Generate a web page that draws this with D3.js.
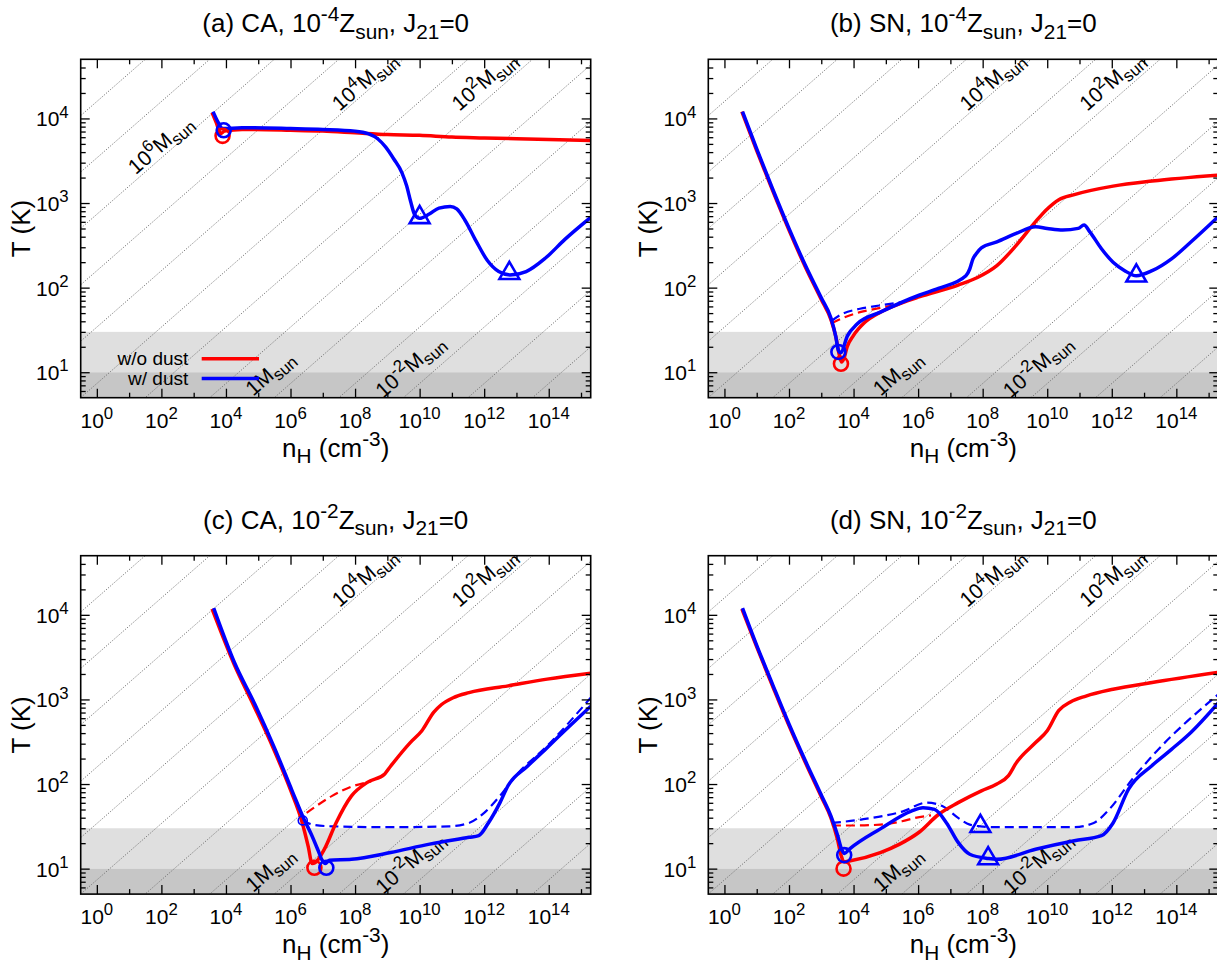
<!DOCTYPE html>
<html>
<head>
<meta charset="utf-8">
<script src="https://cdn.jsdelivr.net/npm/d3@7"></script>
<style>
body { margin: 0; background: #fff; }
text { font-family: "Liberation Sans", Arial, Helvetica, sans-serif; fill: #000; }
</style>
</head>
<body>
<svg id="chart" width="1217" height="963"></svg>
<script>
// all series are [log10 nH (cm^-3), log10 T (K)]
var aRed = [[3.57,4.07],[3.7,3.95],[3.84,3.82],[3.95,3.85],[4.5,3.87],[6,3.86],[7,3.85],[8,3.83],[9,3.81],[10,3.8],[11,3.78],[12,3.77],[13,3.76],[14,3.75],[15.3,3.74]];
var aBlue = [[3.6,4.08],[3.75,3.96],[3.9,3.88],[4.5,3.89],[6,3.88],[7,3.87],[8,3.85],[8.4,3.82],[8.7,3.76],[8.95,3.66],[9.2,3.52],[9.45,3.36],[9.6,3.2],[9.72,3.02],[9.85,2.86],[10.0,2.82],[10.3,2.87],[10.6,2.94],[10.95,2.96],[11.15,2.93],[11.4,2.8],[11.75,2.55],[12.1,2.32],[12.45,2.19],[12.8,2.15],[13.3,2.19],[13.9,2.35],[14.5,2.57],[15.3,2.83]];

var bRed = [[0.54,4.08],[1.0,3.62],[1.5,3.14],[2.0,2.68],[2.5,2.25],[3.0,1.86],[3.3,1.62],[3.45,1.42],[3.55,1.22],[3.63,1.12],[3.7,1.16],[3.8,1.3],[3.99,1.43],[4.35,1.59],[4.83,1.71],[5.5,1.82],[6.03,1.89],[7.24,2.03],[7.84,2.12],[8.44,2.26],[9.04,2.5],[9.64,2.78],[10.0,2.93],[10.36,3.04],[10.84,3.1],[12.04,3.2],[13.25,3.26],[15.3,3.33]];
var bRedDash = [[3.33,1.58],[3.6,1.63],[4.2,1.71],[4.83,1.76],[5.5,1.81]];
var bBlue = [[0.56,4.08],[1.0,3.64],[1.5,3.16],[2.0,2.7],[2.5,2.27],[3.0,1.88],[3.3,1.64],[3.45,1.42],[3.53,1.26],[3.6,1.23],[3.81,1.43],[4.11,1.57],[4.83,1.71],[6.03,1.91],[6.63,1.99],[7.48,2.14],[7.6,2.22],[7.7,2.34],[7.8,2.4],[7.96,2.47],[8.44,2.54],[9.04,2.64],[9.64,2.72],[10.0,2.7],[10.48,2.68],[10.96,2.7],[11.14,2.74],[11.32,2.66],[11.68,2.46],[12.04,2.3],[12.4,2.2],[12.76,2.14],[13.25,2.2],[13.85,2.34],[14.45,2.54],[15.3,2.84]];
var bBlueDash = [[3.33,1.61],[3.6,1.68],[4.2,1.75],[4.83,1.79],[5.5,1.83]];

var cRed = [[3.57,4.07],[4.26,3.41],[4.87,2.92],[5.47,2.42],[6.0,1.93],[6.35,1.56],[6.55,1.26],[6.67,1.06],[6.76,1.07],[7.05,1.23],[7.41,1.54],[7.89,1.86],[8.38,2.02],[8.92,2.12],[9.1,2.21],[9.71,2.49],[10.07,2.63],[10.44,2.85],[10.68,2.94],[11.04,3.02],[11.53,3.08],[12.74,3.16],[13.95,3.24],[15.3,3.31]];
var cRedDash = [[6.5,1.66],[6.8,1.74],[7.29,1.86],[7.9,1.97],[8.5,2.03]];
var cBlue = [[3.62,4.08],[4.26,3.44],[4.9,2.94],[5.5,2.43],[6.05,1.92],[6.4,1.6],[6.65,1.4],[6.85,1.22],[6.98,1.1],[7.08,1.06],[7.2,1.1],[7.89,1.11],[9.1,1.19],[10.31,1.29],[11.53,1.37],[11.83,1.39],[12.13,1.54],[12.49,1.78],[12.74,1.98],[13.34,2.21],[13.95,2.43],[14.55,2.65],[15.3,2.92]];
var cBlueDash = [[6.38,1.58],[6.68,1.52],[7.29,1.5],[9.1,1.49],[10.92,1.5],[11.53,1.54],[12.0,1.66],[12.49,1.86],[12.98,2.1],[13.95,2.45],[15.3,3.02]];

var dRed = [[0.54,4.07],[1.0,3.62],[1.5,3.15],[2.0,2.69],[2.5,2.26],[3.0,1.85],[3.3,1.6],[3.5,1.35],[3.62,1.15],[3.7,1.08],[3.87,1.09],[4.83,1.19],[5.43,1.29],[6.03,1.43],[6.63,1.64],[7.24,1.78],[7.96,1.92],[8.44,2.0],[8.8,2.1],[9.04,2.25],[9.64,2.49],[10.0,2.63],[10.36,2.87],[10.72,2.97],[11.2,3.04],[12.04,3.12],[13.25,3.2],[15.3,3.32]];
var dRedDash = [[3.33,1.51],[4.0,1.51],[4.83,1.52],[5.5,1.56],[5.91,1.6],[6.4,1.63]];
var dBlue = [[0.56,4.08],[1.0,3.64],[1.5,3.17],[2.0,2.71],[2.5,2.28],[3.0,1.87],[3.3,1.62],[3.5,1.4],[3.63,1.23],[3.72,1.18],[3.87,1.23],[4.83,1.47],[5.79,1.68],[6.15,1.72],[6.51,1.7],[6.88,1.54],[7.24,1.31],[7.6,1.17],[8.17,1.12],[8.44,1.11],[9.64,1.23],[10.84,1.33],[11.68,1.39],[12.04,1.54],[12.52,1.94],[13.25,2.22],[13.85,2.41],[14.45,2.61],[15.3,2.96]];
var dBlueDash = [[3.33,1.54],[4.23,1.58],[5.55,1.68],[6.27,1.78],[6.75,1.74],[7.24,1.6],[7.6,1.52],[7.93,1.5],[8.44,1.49],[10.84,1.49],[11.44,1.54],[11.92,1.7],[12.64,2.06],[13.25,2.33],[15.3,3.06]];

// markers: [shape, colour, log n, log T]
var aMarks = [["circle","red",3.895,3.794],["circle","blue",3.93,3.86],["triangle","blue",10.0,2.83],["triangle","blue",12.78,2.17]];
var bMarks = [["circle","red",3.61,1.1],["circle","blue",3.53,1.24],["triangle","blue",12.76,2.14]];
var cMarks = [["circle","red",6.74,1.01],["circle","blue",7.11,1.01],["small","blue",6.38,1.57]];
var dMarks = [["circle","red",3.69,1.0],["circle","blue",3.71,1.16],["triangle","blue",8.17,1.12],["triangle","blue",7.93,1.5]];

// Jeans mass labels: [mantissa, exponent, log n, log T]
var massLabelsA = [["10","6",2.11,3.63],["10","4",8.43,4.38],["10","2",12.14,4.38],["1","",5.5,0.93],["10","-2",9.84,1.01]];
var massLabels = [["10","4",8.43,4.38],["10","2",12.14,4.38],["1","",5.5,0.93],["10","-2",9.84,1.01]];
var jeansMasses = d3.range(-6, 11);   // log10 M/Msun, one dotted line each
var jeansLogC = 1.7;                  // log M = 1.5 log T - 0.5 log n + C

var xTickMajor = [0,2,4,6,8,10,12,14];
var xTickMinor = [1,3,5,7,9,11,13,15];
var yTickMajor = [1,2,3,4];

var titles = [
  [["(a) CA, 10",""],["-4","sup"],["Z",""],["sun","sub"],[", J",""],["21","sub"],["=0",""]],
  [["(b) SN, 10",""],["-4","sup"],["Z",""],["sun","sub"],[", J",""],["21","sub"],["=0",""]],
  [["(c) CA, 10",""],["-2","sup"],["Z",""],["sun","sub"],[", J",""],["21","sub"],["=0",""]],
  [["(d) SN, 10",""],["-2","sup"],["Z",""],["sun","sub"],[", J",""],["21","sub"],["=0",""]]
];

var panels = [
  {x0: 80.7, y0: 59.3, solid: [aRed, aBlue], dash: [], marks: aMarks, labels: massLabelsA, legend: true},
  {x0: 708.3, y0: 59.3, solid: [bRed, bBlue], dash: [bRedDash, bBlueDash], marks: bMarks, labels: massLabels},
  {x0: 80.7, y0: 555.7, solid: [cRed, cBlue], dash: [cRedDash, cBlueDash], marks: cMarks, labels: massLabels},
  {x0: 708.3, y0: 555.7, solid: [dRed, dBlue], dash: [dRedDash, dBlueDash], marks: dMarks, labels: massLabels}
];
var fw = 510, fh = 338.4;
var RED = "#ff0000", BLUE = "#0000ff";

var svg = d3.select("#chart");

function rich(sel, parts, size) {
  var small = size * 0.8, shift = 0;
  parts.forEach(function(p) {
    var target = p[1] === "sup" ? -size * 0.42 : (p[1] === "sub" ? size * 0.26 : 0);
    sel.append("tspan")
      .attr("dy", target - shift)
      .style("font-size", (p[1] ? small : size) + "px")
      .text(p[0]);
    shift = target;
  });
}

panels.forEach(function(p, i) {
  var x = d3.scaleLog().domain([Math.pow(10, -0.5), Math.pow(10, 15.3)]).range([p.x0, p.x0 + fw]);
  var y = d3.scaleLog().domain([5, 5e4]).range([p.y0 + fh, p.y0]);
  var px = function(d) { return x(Math.pow(10, d[0])); };
  var py = function(d) { return y(Math.pow(10, d[1])); };
  var g = svg.append("g");

  var clipId = "clip" + i;
  svg.append("clipPath").attr("id", clipId).append("rect")
    .attr("x", p.x0).attr("y", p.y0).attr("width", fw).attr("height", fh);
  var inner = g.append("g").attr("clip-path", "url(#" + clipId + ")");

  // shaded temperature bands
  inner.append("rect").attr("x", p.x0).attr("width", fw)
    .attr("y", y(30)).attr("height", y(10) - y(30)).attr("fill", "#dfdfdf");
  inner.append("rect").attr("x", p.x0).attr("width", fw)
    .attr("y", y(10)).attr("height", y(5) - y(10)).attr("fill", "#c6c6c6");

  // Jeans mass lines
  var lx0 = -0.5, lx1 = 15.3;
  inner.selectAll(".jeans").data(jeansMasses).enter().append("line")
    .attr("x1", x(Math.pow(10, lx0)))
    .attr("x2", x(Math.pow(10, lx1)))
    .attr("y1", function(m) { return y(Math.pow(10, (m - jeansLogC + 0.5 * lx0) / 1.5)); })
    .attr("y2", function(m) { return y(Math.pow(10, (m - jeansLogC + 0.5 * lx1) / 1.5)); })
    .attr("stroke", "#777").attr("stroke-width", 1).attr("stroke-dasharray", "1.2,1.6");

  var angle = -Math.atan((1 / 3) * (y(10) - y(100)) / (x(10) - x(1))) * 180 / Math.PI;
  p.labels.forEach(function(l) {
    var t = inner.append("text")
      .attr("transform", "translate(" + x(Math.pow(10, l[2])) + "," + y(Math.pow(10, l[3])) + ") rotate(" + angle + ")")
      .attr("text-anchor", "middle").attr("dy", "0.35em")
      .style("font-size", "21px");
    var parts = [[l[0], ""]];
    if (l[1]) parts.push([l[1], "sup"]);
    parts.push(["M", ""], ["sun", "sub"]);
    rich(t, parts, 21);
  });

  // curves
  var line = d3.line().x(px).y(py).curve(d3.curveMonotoneX);
  p.dash.forEach(function(s, k) {
    inner.append("path").datum(s).attr("d", line).attr("fill", "none")
      .attr("stroke", k === 0 ? RED : BLUE).attr("stroke-width", 2.2)
      .attr("stroke-dasharray", "9,5");
  });
  p.solid.forEach(function(s, k) {
    inner.append("path").datum(s).attr("d", line).attr("fill", "none")
      .attr("stroke", k === 0 ? RED : BLUE).attr("stroke-width", 3.5)
      .attr("stroke-linejoin", "round");
  });

  // markers
  p.marks.forEach(function(m) {
    var col = m[1] === "red" ? RED : BLUE;
    var cx = x(Math.pow(10, m[2])), cy = y(Math.pow(10, m[3]));
    if (m[0] === "triangle") {
      g.append("path").attr("d", d3.symbol().type(d3.symbolTriangle).size(170))
        .attr("transform", "translate(" + cx + "," + cy + ")")
        .attr("fill", "none").attr("stroke", col).attr("stroke-width", 2.6);
    } else {
      g.append("circle").attr("cx", cx).attr("cy", cy).attr("r", m[0] === "small" ? 4.5 : 7)
        .attr("fill", "none").attr("stroke", col).attr("stroke-width", m[0] === "small" ? 1.6 : 2.6);
    }
  });

  // ticks on all four sides, pointing inward
  function ticks(axisFn, vals, len, tx, ty) {
    var a = g.append("g").attr("transform", "translate(" + tx + "," + ty + ")")
      .call(axisFn.tickValues(vals).tickSize(-len).tickFormat(""));
    a.select(".domain").remove();
    a.selectAll("line").attr("stroke", "#000").attr("stroke-width", 1.3);
  }
  var xMaj = xTickMajor.map(function(e) { return Math.pow(10, e); });
  var xMin = xTickMinor.map(function(e) { return Math.pow(10, e); });
  var yMaj = yTickMajor.map(function(e) { return Math.pow(10, e); });
  var yMin = [];
  [0, 1, 2, 3, 4].forEach(function(e) {
    for (var k = 2; k <= 9; k++) {
      var v = k * Math.pow(10, e);
      if (v > 5 && v < 5e4) yMin.push(v);
    }
  });
  ticks(d3.axisBottom(x), xMaj, 9, 0, p.y0 + fh);
  ticks(d3.axisBottom(x), xMin, 5, 0, p.y0 + fh);
  ticks(d3.axisTop(x), xMaj, 9, 0, p.y0);
  ticks(d3.axisTop(x), xMin, 5, 0, p.y0);
  ticks(d3.axisLeft(y), yMaj, 9, p.x0, 0);
  ticks(d3.axisLeft(y), yMin, 5, p.x0, 0);
  ticks(d3.axisRight(y), yMaj, 9, p.x0 + fw, 0);
  ticks(d3.axisRight(y), yMin, 5, p.x0 + fw, 0);

  g.append("rect").attr("x", p.x0).attr("y", p.y0).attr("width", fw).attr("height", fh)
    .attr("fill", "none").attr("stroke", "#000").attr("stroke-width", 1.6);

  // tick labels
  xTickMajor.forEach(function(e) {
    var t = g.append("text").attr("x", x(Math.pow(10, e))).attr("y", p.y0 + fh + 30)
      .attr("text-anchor", "middle").style("font-size", "21px");
    rich(t, [["10", ""], [String(e), "sup"]], 21);
  });
  yTickMajor.forEach(function(e) {
    var t = g.append("text").attr("x", p.x0 - 12).attr("y", y(Math.pow(10, e)) + 8)
      .attr("text-anchor", "end").style("font-size", "21px");
    rich(t, [["10", ""], [String(e), "sup"]], 21);
  });

  // axis titles
  var yl = g.append("text").attr("transform", "translate(" + (p.x0 - 51) + "," + (p.y0 + fh / 2) + ") rotate(-90)")
    .attr("text-anchor", "middle").style("font-size", "26px");
  yl.text("T (K)");
  var xl = g.append("text").attr("x", p.x0 + fw / 2).attr("y", p.y0 + fh + 59)
    .attr("text-anchor", "middle").style("font-size", "26px");
  rich(xl, [["n", ""], ["H", "sub"], [" (cm", ""], ["-3", "sup"], [")", ""]], 26);

  var tt = g.append("text").attr("x", p.x0 + fw / 2).attr("y", p.y0 - 27)
    .attr("text-anchor", "middle").style("font-size", "26px");
  rich(tt, titles[i], 26);

  if (p.legend) {
    var leg = [["w/o dust", RED], ["w/ dust", BLUE]];
    leg.forEach(function(l, k) {
      var ly = p.y0 + 299.4 + k * 19.8;
      g.append("text").attr("x", p.x0 + 107.6).attr("y", ly + 6.5)
        .attr("text-anchor", "end").style("font-size", "19px").text(l[0]);
      g.append("line").attr("x1", p.x0 + 121).attr("x2", p.x0 + 178.3)
        .attr("y1", ly).attr("y2", ly).attr("stroke", l[1]).attr("stroke-width", 3.5);
    });
  }
});
</script>
</body>
</html>
